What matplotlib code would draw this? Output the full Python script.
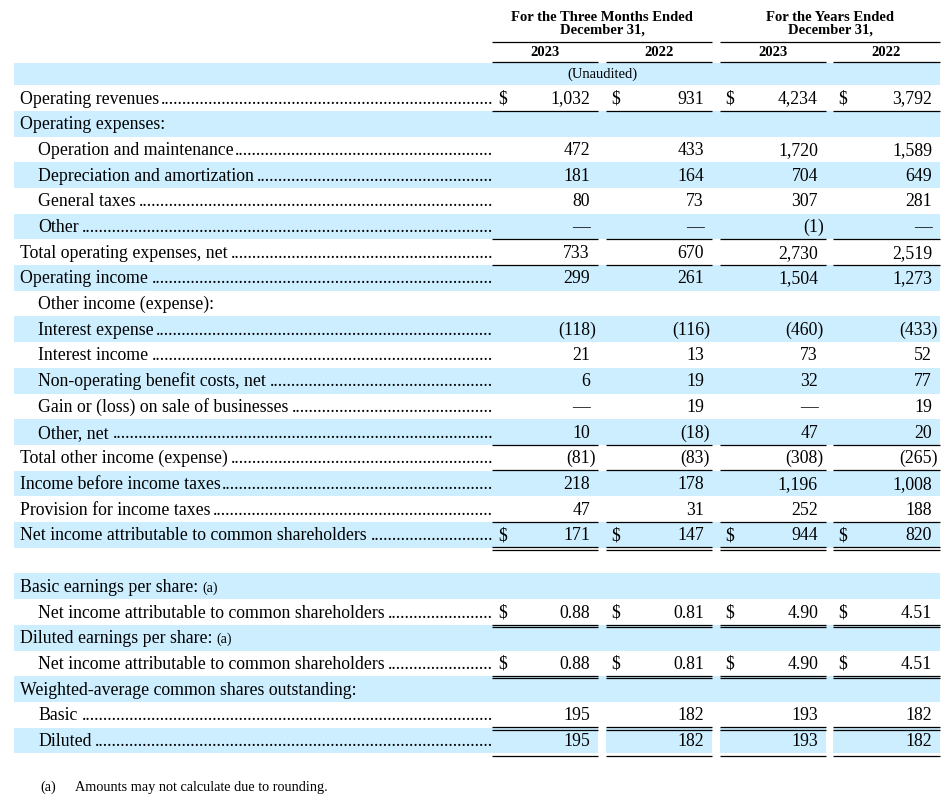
"""Condensed statement of income table, redrawn with matplotlib."""
import numpy as np
import matplotlib
matplotlib.use("Agg")
import matplotlib.pyplot as plt
from matplotlib.patches import Rectangle

NaN = np.nan

labels = [
    "Operating revenues",
    "Operating expenses:",
    "Operation and maintenance",
    "Depreciation and amortization",
    "General taxes",
    "Other",
    "Total operating expenses, net",
    "Operating income",
    "Other income (expense):",
    "Interest expense",
    "Interest income",
    "Non-operating benefit costs, net",
    "Gain or (loss) on sale of businesses",
    "Other, net",
    "Total other income (expense)",
    "Income before income taxes",
    "Provision for income taxes",
    "Net income attributable to common shareholders",
    "",
    "Basic earnings per share:",
    "Net income attributable to common shareholders",
    "Diluted earnings per share:",
    "Net income attributable to common shareholders",
    "Weighted-average common shares outstanding:",
    "Basic",
    "Diluted",
]
indent = [0, 0, 1, 1, 1, 1, 0, 0, 1, 1, 1, 1, 1, 1, 0, 0, 0, 0, 0, 0, 1, 0, 1, 0, 1, 1]

q4_2023 = [1032, NaN, 472, 181, 80, 0, 733, 299, NaN, -118, 21, 6, 0, 10, -81, 218, 47, 171,
           NaN, NaN, 0.88, NaN, 0.88, NaN, 195, 195]
q4_2022 = [931, NaN, 433, 164, 73, 0, 670, 261, NaN, -116, 13, 19, 19, -18, -83, 178, 31, 147,
           NaN, NaN, 0.81, NaN, 0.81, NaN, 182, 182]
fy_2023 = [4234, NaN, 1720, 704, 307, -1, 2730, 1504, NaN, -460, 73, 32, 0, 47, -308, 1196, 252, 944,
           NaN, NaN, 4.90, NaN, 4.90, NaN, 193, 193]
fy_2022 = [3792, NaN, 1589, 649, 281, 0, 2519, 1273, NaN, -433, 52, 77, 19, 20, -265, 1008, 188, 820,
           NaN, NaN, 4.51, NaN, 4.51, NaN, 182, 182]

group_titles = ["For the Three Months Ended\nDecember 31,", "For the Years Ended\nDecember 31,"]
year_labels = ["2023", "2022", "2023", "2022"]
footnote = "Amounts may not calculate due to rounding."

per_share_rows = {20, 22}
dollar_rows = {0, 17, 20, 22}
note_rows = {19, 21}
single_rule = {0, 5, 6, 13, 14, 16, 25}
double_rule = {17, 20, 22, 24}

# layout (pixel coordinates)
SHADE = "#CCEEFF"
FS = 12.8
Y0, PITCH = 98.0, 25.7
col_left = [492, 606, 720, 833]
col_right = [598, 712, 826, 940]
val_right = [590, 704, 818, 932]
dollar_x = [498, 611, 725, 838]
DOT_END = 493

plt.rcParams["font.family"] = ["Liberation Serif", "DejaVu Serif"]

fig = plt.figure(figsize=(9.52, 8.08), dpi=100)
ax = fig.add_axes([0, 0, 1, 1])
ax.set_xlim(0, 952)
ax.set_ylim(808, 0)
ax.axis("off")
renderer = fig.canvas.get_renderer()


def text_width(s, size):
    t = ax.text(0, -100, s, fontsize=size)
    w = t.get_window_extent(renderer).width
    t.remove()
    return w


def fmt(v, per_share):
    if v == 0:
        return "\u2014"
    s = f"{abs(v):,.2f}" if per_share else f"{abs(v):,.0f}"
    return f"({s})" if v < 0 else s


def hline(y, x0, x1):
    ax.plot([x0, x1], [y, y], color="black", lw=0.9, solid_capstyle="butt")


dot_w = text_width("." * 40, FS) / 40
paren_w = text_width("(1)", FS) - text_width("(1", FS)

# header
for k, title in enumerate(group_titles):
    cx = (col_left[2 * k] + col_right[2 * k + 1]) / 2
    ax.text(cx, 24, title, ha="center", va="center", fontsize=10.5, fontweight="bold",
            linespacing=0.95)
    hline(42, col_left[2 * k], col_right[2 * k + 1])
for j, yl in enumerate(year_labels):
    ax.text((col_left[j] + col_right[j]) / 2, 56.5, yl, ha="center", va="baseline",
            fontsize=10.5, fontweight="bold")
    hline(62, col_left[j], col_right[j])

# (Unaudited) band
ax.add_patch(Rectangle((14, 62.5), 926, Y0 - PITCH / 2 - 62.5, color=SHADE, lw=0, zorder=0))
ax.text((col_left[0] + col_right[1]) / 2, 78, "(Unaudited)", ha="center", va="baseline",
        fontsize=10.5)

cols = [q4_2023, q4_2022, fy_2023, fy_2022]
for i, lab in enumerate(labels):
    y = Y0 + i * PITCH
    if i % 2 == 1:
        ax.add_patch(Rectangle((14, y - PITCH / 2), 926, PITCH, color=SHADE, lw=0, zorder=0))
    if i == len(labels) - 1:
        for j in range(3):
            ax.add_patch(Rectangle((col_right[j], y - PITCH / 2), col_left[j + 1] - col_right[j],
                                   PITCH, color="white", lw=0, zorder=0.5))
    if not lab:
        continue
    x = 38 if indent[i] else 20
    t = ax.text(x, y + 5.5, lab, ha="left", va="baseline", fontsize=FS)
    end = t.get_window_extent(renderer).x1
    if i in note_rows:
        ax.text(end + 4, y + 5.5, "(a)", ha="left", va="baseline", fontsize=10)
    if not np.isnan(cols[0][i]):
        n = int((DOT_END - end - 1) / dot_w)
        ax.text(DOT_END, y + 5.5, "." * n, ha="right", va="baseline", fontsize=FS)
        for j, col in enumerate(cols):
            s = fmt(col[i], i in per_share_rows)
            xr = val_right[j] + (paren_w if s.endswith(")") else 0)
            ax.text(xr, y + 5.5, s, ha="right", va="baseline", fontsize=FS)
            if i in dollar_rows:
                ax.text(dollar_x[j], y + 5.5, "$", ha="left", va="baseline", fontsize=FS)
    off = 15.5 if i == len(labels) - 1 else 12.5
    for j in range(4):
        if i in single_rule:
            hline(y + off, col_left[j], col_right[j])
        if i in double_rule:
            hline(y + 12.5, col_left[j], col_right[j])
            hline(y + 15.0, col_left[j], col_right[j])

# footnote
ax.text(40, 791, "(a)", ha="left", va="baseline", fontsize=10.3)
ax.text(75, 791, footnote, ha="left", va="baseline", fontsize=10.3)

fig.savefig("out.png", dpi=100, facecolor="white")
